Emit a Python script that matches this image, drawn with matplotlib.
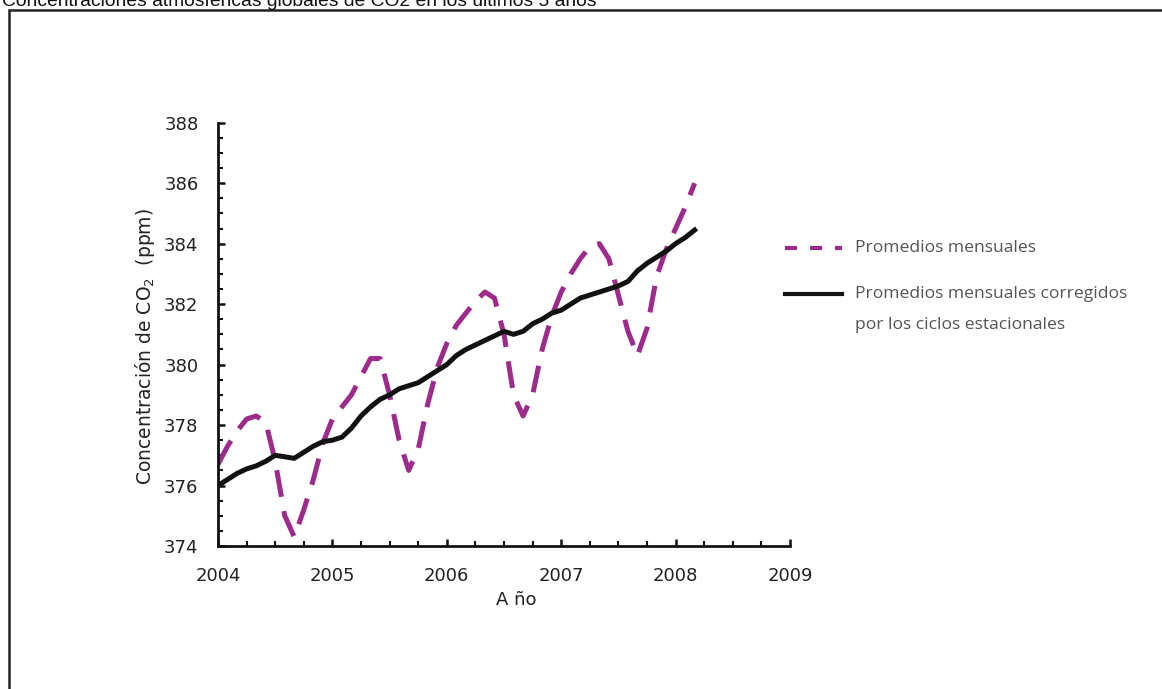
import numpy as np
import matplotlib
matplotlib.use("Agg")
import matplotlib.pyplot as plt
from matplotlib.lines import Line2D
from matplotlib.patches import Rectangle
from matplotlib.ticker import MultipleLocator

# Monthly series, Jan 2004 onwards (ppm)
months = np.arange(51)
years = 2004 + months / 12.0

monthly_mean = [
    376.7, 377.3, 377.8, 378.2, 378.3, 378.1, 376.8, 375.0, 374.3, 375.2,
    376.2, 377.4, 378.2, 378.6, 379.0, 379.6, 380.2, 380.2, 379.0, 377.5,
    376.5, 377.2, 378.7, 379.9, 380.7, 381.3, 381.7, 382.1, 382.4, 382.2,
    381.0, 379.0, 378.3, 379.0, 380.5, 381.6, 382.4, 383.0, 383.5, 383.9,
    384.0, 383.5, 382.3, 381.1, 380.3, 381.2, 382.9, 383.8, 384.5, 385.2,
    386.0,
]
deseasonalized = [
    376.0, 376.2, 376.4, 376.55, 376.65, 376.8, 377.0, 376.95, 376.9, 377.1,
    377.3, 377.45, 377.5, 377.6, 377.9, 378.3, 378.6, 378.85, 379.0, 379.2,
    379.3, 379.4, 379.6, 379.8, 380.0, 380.3, 380.5, 380.65, 380.8, 380.95,
    381.1, 381.0, 381.1, 381.35, 381.5, 381.7, 381.8, 382.0, 382.2, 382.3,
    382.4, 382.5, 382.6, 382.75, 383.1, 383.35, 383.55, 383.75, 384.0, 384.2,
    384.45,
]

year_ticks = [2004, 2005, 2006, 2007, 2008, 2009]
ppm_ticks = [374, 376, 378, 380, 382, 384, 386, 388]

label_monthly = "Promedios mensuales"
label_corrected = ["Promedios mensuales corregidos", "por los ciclos estacionales"]
title = "Concentraciones atmosféricas globales de CO2 en los últimos 5 años"

magenta = "#9c2b8c"
W, H = 1162, 689

fig = plt.figure(figsize=(W / 100, H / 100), dpi=100)
fig.patch.set_facecolor("white")

# outer frame (only top and left edges visible)
fig.add_artist(Rectangle((8.5 / W, -0.1), 1.2, 1 - 10 / H + 0.1,
                         transform=fig.transFigure, fill=False,
                         edgecolor="#222222", lw=1.8))
# title is clipped by the top edge, as in the original
fig.text(2 / W, 1 - 5.5 / H, title, fontsize=13.9, family="Liberation Sans",
         color="#111111", va="baseline", ha="left")

ax = fig.add_axes([218 / W, 1 - 546 / H, 572 / W, (546 - 122.7) / H])
ax.plot(years, monthly_mean, color=magenta, lw=3.6, dashes=(5.4, 2.9),
        dash_capstyle="butt", dash_joinstyle="round")
ax.plot(years, deseasonalized, color="#111111", lw=3.6,
        solid_joinstyle="round")

ax.set_xlim(2004, 2009)
ax.set_ylim(374, 388)
ax.set_xticks(year_ticks)
ax.set_yticks(ppm_ticks)
ax.xaxis.set_minor_locator(MultipleLocator(0.25))
ax.yaxis.set_minor_locator(MultipleLocator(0.5))
ax.tick_params(which="major", direction="in", length=5, width=1.8,
               labelsize=13, color="#111111")
ax.tick_params(which="minor", direction="in", length=3.5, width=1.5,
               color="#111111")
ax.tick_params(axis="y", which="major", pad=14)
ax.tick_params(axis="x", which="major", pad=15)
for lbl in ax.get_xticklabels() + ax.get_yticklabels():
    lbl.set_color("#222222")

for side in ["top", "right"]:
    ax.spines[side].set_visible(False)
for side in ["left", "bottom"]:
    ax.spines[side].set_linewidth(2.0)
    ax.spines[side].set_color("#111111")
ax.patch.set_alpha(0)

fig.text(516 / W, 1 - 600 / H, "A ño", fontsize=13, ha="center",
         va="center", color="#222222")
fig.text(145 / W, 1 - 347 / H, "Concentración de CO$_2$  (ppm)",
         fontsize=13.5, rotation=90, ha="center", va="center", color="#222222")

# legend drawn by hand so the sample lines sit on the first text line
leg_font = {"family": "Open Sans", "size": 12.6, "color": "#555555"}
fig.add_artist(Line2D([785 / W, 842 / W], [1 - 248 / H, 1 - 248 / H],
                      transform=fig.transFigure, color=magenta, lw=3.0,
                      dashes=(2.9, 3.1), dash_capstyle="butt"))
fig.add_artist(Line2D([785 / W, 842 / W], [1 - 294 / H, 1 - 294 / H],
                      transform=fig.transFigure, color="#111111", lw=3.0))
fig.text(855 / W, 1 - 248 / H, label_monthly, va="center", ha="left",
         **leg_font)
for i, line in enumerate(label_corrected):
    fig.text(855 / W, 1 - (294 + 31 * i) / H, line, va="center", ha="left",
             **leg_font)

fig.savefig("out.png", dpi=100, facecolor="white")
